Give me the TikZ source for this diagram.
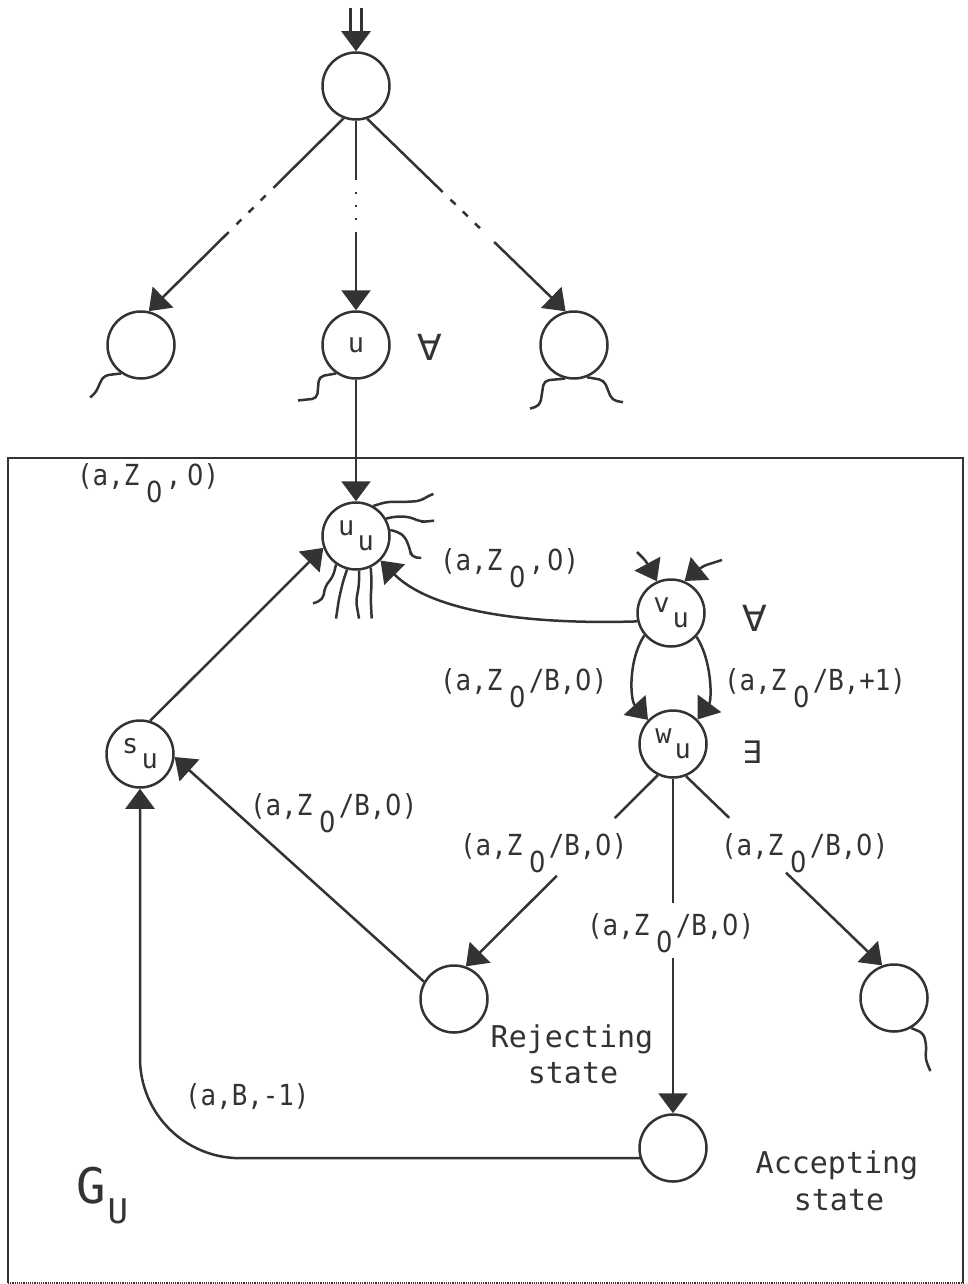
\documentclass[tikz,border=0pt]{standalone}
\usepackage{fontspec}
\setmonofont{DejaVu Sans Mono}
\newfontfamily\lblfont[FakeStretch=0.89]{DejaVu Sans Mono}
\newfontfamily\zerofont[FakeStretch=0.89]{DejaVu Sans}
\newfontfamily\symfont{DejaVu Sans}
\usetikzlibrary{arrows.meta,calc}
\definecolor{ink}{gray}{0.2}
\newcommand{\zr}{{\zerofont 0}}
\newcommand{\zsub}[1]{\kern7pt\raisebox{-0.6em}{#1}\kern3pt}
\newcommand{\ssub}[1]{\kern3pt\raisebox{-0.55em}{#1}}
\begin{document}
\begin{tikzpicture}[x=1pt,y=-1pt,
  every node/.style={text=ink},
  st/.style={circle, draw=ink, line width=2.5pt, minimum size=67pt, inner sep=0pt, font=\ttfamily\fontsize{27}{27}\selectfont},
  ln/.style={draw=ink, line width=2.5pt},
  arr/.style={ln, -{Triangle[length=20pt,width=29pt]}},
  lbl/.style={anchor=base west, inner sep=0pt, font=\lblfont\fontsize{29}{29}\selectfont},
  big/.style={anchor=base, inner sep=0pt, font=\ttfamily\fontsize{30}{30}\selectfont},
  quant/.style={inner sep=0pt, font=\symfont\fontsize{36}{36}\selectfont},
  sq/.style={ln, rounded corners=5pt},
]
\useasboundingbox (0,0) rectangle (967,1284);

% frame
\coordinate (fTL) at (8,458);
\coordinate (fTR) at (963,458);
\coordinate (fBL) at (8,1283);
\coordinate (fBR) at (963,1283);
\draw[ln] (fBL) -- (fTL) -- (fTR) -- (fBR);
\draw[ln, line width=1.2pt, densely dotted] (fBL) -- (fBR);

% states
\node[st] (top) at (356,86) {};
\node[st] (L1) at (141,345) {};
\node[st] (u) at (356,345) {u};
\node[st] (R1) at (574,345) {};
\node[st] (uu) at (356,536) {u\ssub{u}};
\node[st] (vu) at (671,613) {v\ssub{u}};
\node[st] (wu) at (673,744) {w\ssub{u}};
\node[st] (su) at (140,754) {s\ssub{u}};
\node[st] (rej) at (454,999) {};
\node[st] (acc) at (673,1148) {};
\node[st] (R2) at (894,998) {};

% initial double arrow
\coordinate (in) at (356,8);
\draw[ln] ([xshift=-5.5pt]in) -- ++(0,30);
\draw[ln] ([xshift=5.5pt]in) -- ++(0,30);
\draw[arr] ([yshift=-30pt]in) -- (top.north);

% top fan
\coordinate (a1) at ($(top.249)!0.36!(L1.77)$);
\coordinate (a2) at ($(top.249)!0.59!(L1.77)$);
\draw[ln] (top.249) -- (a1);
\draw[ln, dash pattern=on 0pt off 11pt on 7pt off 10pt on 7pt off 10pt on 7pt off 40pt] (a1) -- (a2);
\draw[arr] (a2) -- (L1.77);

\coordinate (b1) at ($(top.south)!0.315!(u.north)$);
\coordinate (b2) at ($(top.south)!0.586!(u.north)$);
\draw[ln] (top.south) -- (b1);
\draw[ln, dash pattern=on 0pt off 12pt on 2pt off 11pt on 2pt off 11pt on 2pt off 40pt] (b1) -- (b2);
\draw[arr] (b2) -- (u.north);

\coordinate (c1) at ($(top.289)!0.38!(R1.104)$);
\coordinate (c2) at ($(top.289)!0.64!(R1.104)$);
\draw[ln] (top.289) -- (c1);
\draw[ln, dash pattern=on 0pt off 11pt on 7pt off 10pt on 7pt off 10pt on 7pt off 40pt] (c1) -- (c2);
\draw[arr] (c2) -- (R1.104);

% squiggles on the three successors
\draw[sq] (L1.235) -- ++(-17,2) -- ++(-4,7) -- ++(-4,10) -- ++(-6,5);
\draw[sq] (u.235) -- ++(-17,3) -- ++(-2,22) -- ++(-19,2);
\draw[sq] (R1.255) -- ++(-21,2) -- ++(-4,25) -- ++(-10,3);
\draw[sq] (R1.292) -- ++(17,3) -- ++(8,20) -- ++(11,2);

% u -> u_u
\draw[arr] (u.south) -- (uu.north);

% squiggles on u_u
\draw[sq] (uu.60) -- ++(13,-4) -- ++(20,0) -- ++(14,-1) -- ++(6,-4) -- ++(7,-3);
\draw[sq] (uu.30) -- ++(8,-2) -- ++(14,0) -- ++(13,5) -- ++(5,0) -- ++(8,-1);
\draw[sq] (uu.10) -- ++(8,2) -- ++(7,5) -- ++(5,13) -- ++(1,7) -- ++(10,1);
\draw[sq] (uu.235) -- ++(-3,12) -- ++(-8,10) -- ++(-2,13) -- ++(-10,4);
\draw[sq] (uu.255) -- ++(-4,12) -- ++(-4,17) -- ++(-3,20);
\draw[sq] (uu.275) -- ++(0,14) -- ++(-3,17) -- ++(3,17);
\draw[sq] (uu.295) -- ++(1,14) -- ++(-1,17) -- ++(1,20);

% incoming squiggles on v_u
\coordinate (v1) at (637,552);
\coordinate (v2) at (722,560);
\draw[arr, rounded corners=4pt] (v1) -- (646,561) -- (vu.114);
\draw[arr, rounded corners=4pt] (v2) -- (703,566) -- (vu.67);

% v_u -> u_u
\draw[arr] (vu.194) .. controls (520,625) and (430,610) .. (uu.315);

% v_u -> w_u
\draw[arr] (vu.220) .. controls (628,660) and (630,700) .. (wu.136);
\draw[arr] (vu.317) .. controls (712,660) and (712,700) .. (wu.45);

% w_u successors (lines interrupted by their labels)
\coordinate (d1) at ($(wu.244)!0.224!(rej.70)$);
\coordinate (d2) at ($(wu.244)!0.526!(rej.70)$);
\draw[ln] (wu.244) -- (d1);
\draw[arr] (d2) -- (rej.70);
\coordinate (e1) at ($(wu.south)!0.37!(acc.north)$);
\coordinate (e2) at ($(wu.south)!0.535!(acc.north)$);
\draw[ln] (wu.south) -- (e1);
\draw[arr] (e2) -- (acc.north);
\coordinate (f1) at ($(wu.292)!0.22!(R2.110)$);
\coordinate (f2) at ($(wu.292)!0.51!(R2.110)$);
\draw[ln] (wu.292) -- (f1);
\draw[arr] (f2) -- (R2.110);
\draw[sq] (R2.300) -- ++(12,5) -- ++(3,12) -- ++(-1,14) -- ++(5,12);

% rejecting -> s_u, accepting -> s_u, s_u -> u_u
\draw[arr] (rej.150) -- (su.-5);
\draw[arr, rounded corners=100pt] (acc.197) -| (su.south);
\draw[arr] (su.73) -- (uu.200);

% labels
\node[lbl] (t1) at (77,485) {(a,Z\zsub{\zr},\kern6pt\zr)};
\node[lbl] (t2) at (440,570) {(a,Z\zsub{\zr},\kern3pt\zr)};
\node[lbl] (t3) at (440,690) {(a,Z\zsub{\zr}/B,\zr)};
\node[lbl] (t4) at (724,690) {(a,Z\zsub{\zr}/B,+1)};
\node[lbl] (t5) at (250,815) {(a,Z\zsub{\zr}/B,\zr)};
\node[lbl] (t6) at (460,855) {(a,Z\zsub{\zr}/B,\zr)};
\node[lbl] (t7) at (721,855) {(a,Z\zsub{\zr}/B,\zr)};
\node[lbl] (t8) at (587,935) {(a,Z\zsub{\zr}/B,\zr)};
\node[lbl] (t9) at (185,1105) {(a,B,-1)};

\node[big] (rj1) at (572,1047) {Rejecting};
\node[big] (rj2) at (573,1083) {state};
\node[big] (ac1) at (837,1173) {Accepting};
\node[big] (ac2) at (839,1210) {state};

\node[quant] (q1) at (430,347) {∀};
\node[quant] (q2) at (755,618) {∀};
\node[quant, font=\symfont\fontsize{31}{31}\selectfont] (q3) at (752,752) {∃};

\node[anchor=base west, inner sep=0pt, font=\ttfamily\fontsize{49}{49}\selectfont] (gu) at (76,1203)
  {G\kern2pt\raisebox{-20pt}{\fontsize{34}{34}\selectfont U}};
\end{tikzpicture}
\end{document}
